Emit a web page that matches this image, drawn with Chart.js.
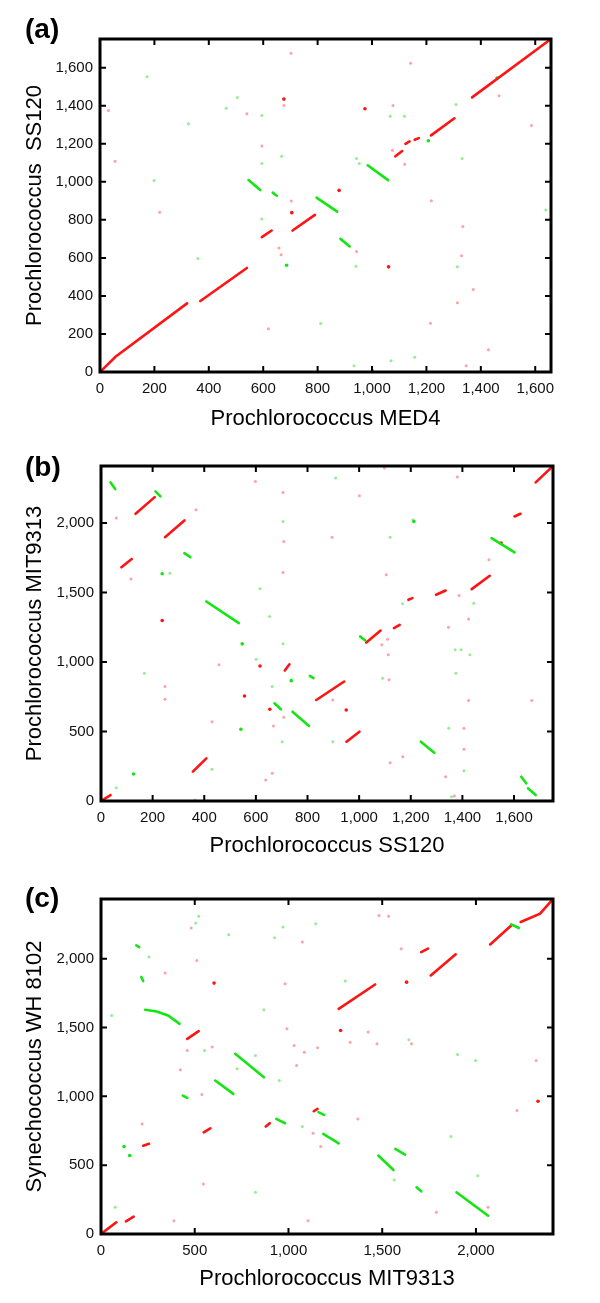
<!DOCTYPE html>
<html>
<head>
<meta charset="utf-8">
<script src="https://cdn.jsdelivr.net/npm/chart.js@4"></script>
<style>
  html, body { margin: 0; padding: 0; background: #fff; }
  body { width: 600px; height: 1303px; position: relative; overflow: hidden; }
  .panel { position: absolute; left: 0; width: 600px; }
</style>
</head>
<body>
<div class="panel" style="top:0px"><canvas id="chartA" width="600" height="432"></canvas></div>
<div class="panel" style="top:428px"><canvas id="chartB" width="600" height="433"></canvas></div>
<div class="panel" style="top:861px"><canvas id="chartC" width="600" height="433"></canvas></div>
<script>
// Genome dot plots (positions in kb)
// red = matches on same strand, green = inverted matches
// segments are polylines [x1, y1, x2, y2, ...]

// (a) MED4 vs SS120
var aMax = [1658, 1751];
var aTicksX = [0, 200, 400, 600, 800, 1000, 1200, 1400, 1600];
var aTicksY = [0, 200, 400, 600, 800, 1000, 1200, 1400, 1600];
var aRed = [
  [0, 0, 57, 80, 320, 361],
  [369, 373, 540, 547],
  [595, 709, 631, 744],
  [708, 744, 790, 826],
  [1086, 1134, 1111, 1162],
  [1123, 1200, 1138, 1213],
  [1157, 1221, 1172, 1230],
  [1217, 1244, 1303, 1334],
  [1368, 1444, 1658, 1751]
];
var aGreen = [
  [546, 1009, 589, 957],
  [635, 943, 650, 927],
  [796, 917, 872, 843],
  [884, 700, 918, 660],
  [984, 1087, 1059, 1009]
];
var aRedDots = [[879, 955], [974, 1384], [676, 1435], [705, 838], [1061, 553]];
var aGreenDots = [[1460, 1546], [686, 561], [1001, 7], [1207, 1216]];
var aFaintRed = [[702, 1676], [676, 1401], [31, 1375], [540, 1358], [595, 1188], [55, 1108],
  [219, 840], [703, 899], [658, 652], [666, 617], [619, 228], [1142, 1624], [1077, 1401],
  [1586, 1296], [1075, 1166], [1120, 1093], [1218, 901], [1334, 765], [1329, 611],
  [1372, 434], [1314, 364], [1215, 256], [1428, 117], [1346, 33], [943, 634], [1467, 1452]];
var aFaintGreen = [[173, 1553], [505, 1444], [464, 1387], [325, 1305], [595, 1349], [668, 1134],
  [595, 1096], [199, 1007], [595, 805], [360, 597], [811, 255], [1067, 1345], [1119, 1345],
  [1309, 1406], [943, 1122], [953, 1097], [1331, 1122], [1639, 852], [941, 556], [1314, 553],
  [1157, 77], [1070, 59], [934, 33]];

// (b) SS120 vs MIT9313
var bMax = [1751, 2411];
var bTicksX = [0, 200, 400, 600, 800, 1000, 1200, 1400, 1600];
var bTicksY = [0, 500, 1000, 1500, 2000];
var bRed = [
  [0, 0, 37, 43],
  [356, 211, 408, 307],
  [951, 427, 1001, 499],
  [834, 727, 942, 860],
  [712, 939, 730, 984],
  [1028, 1140, 1083, 1227],
  [1135, 1244, 1157, 1268],
  [1191, 1448, 1206, 1460],
  [1298, 1484, 1335, 1515],
  [1436, 1525, 1506, 1621],
  [1602, 2048, 1625, 2067],
  [1684, 2293, 1751, 2411],
  [79, 1683, 119, 1741],
  [248, 1899, 323, 2019],
  [134, 2067, 208, 2187]
];
var bGreen = [
  [37, 2293, 55, 2245],
  [211, 2228, 230, 2192],
  [323, 1784, 346, 1755],
  [408, 1436, 534, 1280],
  [1004, 1184, 1024, 1155],
  [1513, 1892, 1602, 1789],
  [809, 900, 823, 884],
  [672, 703, 697, 660],
  [742, 643, 806, 540],
  [1239, 427, 1291, 348],
  [1628, 175, 1647, 127],
  [1654, 91, 1684, 43]
];
var bRedDots = [[616, 972], [654, 660], [950, 655], [1550, 1856], [237, 1299], [556, 756]];
var bGreenDots = [[237, 1635], [547, 1131], [542, 516], [126, 194], [737, 866], [1212, 2012]];
var bFaintRed = [[368, 2096], [59, 2036], [116, 1597], [705, 2221], [708, 1868], [705, 1645],
  [895, 1899], [1001, 2197], [1380, 2331], [1105, 1628], [1503, 1736], [1387, 1479],
  [1424, 1309], [1346, 1251], [1110, 1164], [1088, 1124], [1113, 1052], [1116, 872],
  [1424, 723], [1406, 523], [1406, 372], [1169, 319], [1120, 276], [1335, 175], [1369, 36],
  [1669, 723], [638, 151], [663, 199], [668, 540], [708, 603], [457, 980], [248, 824],
  [248, 732], [430, 571], [598, 2300], [1098, 2396], [898, 727]];
var bFaintGreen = [[705, 2012], [909, 2324], [1209, 2024], [1120, 1899], [616, 1527], [653, 1328],
  [705, 1131], [1168, 1419], [1444, 1424], [1372, 1088], [1395, 1088], [1429, 1052],
  [1375, 920], [1091, 884], [1347, 523], [1406, 218], [1358, 31], [168, 920], [430, 228],
  [364, 7], [59, 96], [702, 427], [898, 427], [663, 824], [601, 1020], [267, 1640]];

// (c) MIT9313 vs WH8102
var cMax = [2411, 2434];
var cTicksX = [0, 500, 1000, 1500, 2000];
var cTicksY = [0, 500, 1000, 1500, 2000];
var cRed = [
  [0, 0, 82, 85],
  [133, 92, 174, 126],
  [225, 642, 256, 655],
  [548, 739, 583, 768],
  [460, 1418, 521, 1474],
  [879, 781, 900, 805],
  [1135, 892, 1155, 909],
  [1268, 1636, 1462, 1813],
  [1708, 2048, 1744, 2073],
  [1759, 1879, 1892, 2032],
  [2076, 2104, 2188, 2242],
  [2239, 2267, 2342, 2327, 2411, 2434]
];
var cGreen = [
  [188, 2097, 204, 2085],
  [215, 1867, 225, 1838],
  [235, 1629, 297, 1617, 358, 1588, 419, 1527],
  [436, 1006, 460, 989],
  [609, 1115, 706, 1018],
  [716, 1309, 869, 1139],
  [935, 836, 982, 805],
  [1160, 885, 1190, 865],
  [1186, 727, 1268, 659],
  [1479, 570, 1560, 465],
  [1570, 618, 1622, 577],
  [1683, 339, 1708, 310],
  [1896, 303, 2065, 133],
  [2188, 2250, 2229, 2223]
];
var cRedDots = [[603, 1823], [1278, 1479], [1630, 1830], [2331, 965]];
var cGreenDots = [[123, 635], [153, 570]];
var cFaintRed = [[481, 2223], [511, 1988], [342, 1896], [1074, 2121], [982, 1818], [1483, 2315],
  [1534, 2308], [1601, 2073], [1425, 1467], [1472, 1382], [1656, 1382], [1329, 1394],
  [992, 1491], [1030, 1370], [1084, 1321], [1155, 1353], [460, 1333], [423, 1193],
  [538, 1013], [593, 1358], [1043, 1224], [2321, 1261], [2219, 897], [1370, 836],
  [1131, 732], [1172, 635], [1789, 158], [2065, 194], [1104, 97], [389, 97], [546, 364], [219, 800]];
var cFaintGreen = [[521, 2308], [505, 2259], [681, 2175], [926, 2153], [971, 2230], [1145, 2255],
  [1303, 1838], [869, 1629], [57, 1588], [256, 2012], [726, 1200], [824, 1297], [951, 1115],
  [552, 1333], [1642, 1411], [1902, 1304], [1998, 1261], [1867, 708], [1074, 781], [1564, 393],
  [2010, 424], [824, 303], [76, 194], [0, 698]];

var RED = "#ff1414";
var GREEN = "#14e614";
var FAINT_RED = "rgba(255, 70, 70, 0.5)";
var FAINT_GREEN = "rgba(40, 220, 40, 0.5)";
var FONT = "'Liberation Sans', Arial, Helvetica, sans-serif";

function lineData(polys) {
  var pts = [];
  polys.forEach(function (p) {
    for (var i = 0; i < p.length; i += 2) {
      pts.push({ x: p[i], y: p[i + 1] });
    }
    // break the line between segments
    pts.push({ x: p[p.length - 2], y: null });
  });
  return pts;
}

function dotData(list) {
  return list.map(function (d) { return { x: d[0], y: d[1] }; });
}

// box with inward ticks on all four sides, plus panel letter
var framePlugin = {
  id: "frame",
  afterDraw: function (chart, args, opts) {
    var ctx = chart.ctx;
    var a = chart.chartArea;
    var xs = chart.scales.x;
    var ys = chart.scales.y;
    ctx.save();
    ctx.strokeStyle = "#000";
    ctx.lineWidth = 2;
    ctx.beginPath();
    xs.ticks.forEach(function (t) {
      var px = xs.getPixelForValue(t.value);
      ctx.moveTo(px, a.bottom);
      ctx.lineTo(px, a.bottom - 6);
      ctx.moveTo(px, a.top);
      ctx.lineTo(px, a.top + 6);
    });
    ys.ticks.forEach(function (t) {
      var py = ys.getPixelForValue(t.value);
      ctx.moveTo(a.left, py);
      ctx.lineTo(a.left + 6, py);
      ctx.moveTo(a.right, py);
      ctx.lineTo(a.right - 6, py);
    });
    ctx.stroke();
    ctx.lineWidth = 3;
    ctx.strokeRect(a.left, a.top, a.right - a.left, a.bottom - a.top);
    ctx.fillStyle = "#000";
    ctx.font = "bold 28px " + FONT;
    ctx.textBaseline = "middle";
    ctx.textAlign = "left";
    ctx.fillText(opts.label, 25, opts.labelY);
    ctx.restore();
  }
};

function makePanel(id, p) {
  var datasets = [
    { data: dotData(p.faintRed), pointRadius: 1.5, pointBackgroundColor: FAINT_RED, pointBorderWidth: 0 },
    { data: dotData(p.faintGreen), pointRadius: 1.5, pointBackgroundColor: FAINT_GREEN, pointBorderWidth: 0 },
    { data: lineData(p.green), showLine: true, borderColor: GREEN, borderWidth: 2.6, pointRadius: 0, borderCapStyle: "round" },
    { data: lineData(p.red), showLine: true, borderColor: RED, borderWidth: 2.6, pointRadius: 0, borderCapStyle: "round" },
    { data: dotData(p.greenDots), pointRadius: 1.8, pointBackgroundColor: GREEN, pointBorderWidth: 0 },
    { data: dotData(p.redDots), pointRadius: 1.8, pointBackgroundColor: RED, pointBorderWidth: 0 }
  ];

  new Chart(document.getElementById(id), {
    type: "scatter",
    data: { datasets: datasets },
    options: {
      responsive: false,
      animation: false,
      events: [],
      layout: { padding: { top: p.padTop, right: p.padRight, left: 0, bottom: 0 } },
      plugins: {
        legend: { display: false },
        tooltip: { enabled: false },
        frame: { label: p.label, labelY: p.labelY }
      },
      scales: {
        x: {
          type: "linear",
          min: 0,
          max: p.max[0],
          afterBuildTicks: function (s) {
            s.ticks = p.ticksX.map(function (v) { return { value: v }; });
          },
          afterFit: function (s) {
            s.height = 60;
            s.paddingLeft = 0;
            s.paddingRight = 0;
          },
          grid: { display: false, drawTicks: false },
          border: { display: false },
          ticks: {
            padding: 8,
            color: "#111",
            font: { family: FONT, size: 15 },
            maxRotation: 0,
            autoSkip: false,
            callback: function (v) { return v.toLocaleString("en-US"); }
          },
          title: {
            display: true,
            text: p.xTitle,
            color: "#000",
            font: { family: FONT, size: 22 },
            padding: { top: 0, bottom: p.xTitlePad }
          }
        },
        y: {
          type: "linear",
          min: 0,
          max: p.max[1],
          afterBuildTicks: function (s) {
            s.ticks = p.ticksY.map(function (v) { return { value: v }; });
          },
          afterFit: function (s) {
            s.width = p.left;
            s.paddingTop = 0;
            s.paddingBottom = 0;
          },
          grid: { display: false, drawTicks: false },
          border: { display: false },
          ticks: {
            padding: 7,
            color: "#111",
            font: { family: FONT, size: 15 },
            autoSkip: false,
            callback: function (v) { return v.toLocaleString("en-US"); }
          },
          title: {
            display: true,
            text: p.yTitle,
            color: "#000",
            font: { family: FONT, size: 22 },
            padding: { top: 22, bottom: 0 }
          }
        }
      }
    },
    plugins: [framePlugin]
  });
}

makePanel("chartA", {
  label: "(a)", labelY: 30, padTop: 39, padRight: 49, left: 100, xTitlePad: 0,
  max: aMax, ticksX: aTicksX, ticksY: aTicksY,
  xTitle: "Prochlorococcus MED4", yTitle: "Prochlorococcus  SS120",
  red: aRed, green: aGreen, redDots: aRedDots, greenDots: aGreenDots,
  faintRed: aFaintRed, faintGreen: aFaintGreen
});

makePanel("chartB", {
  label: "(b)", labelY: 40, padTop: 38, padRight: 47, left: 101, xTitlePad: 1.8,
  max: bMax, ticksX: bTicksX, ticksY: bTicksY,
  xTitle: "Prochlorococcus SS120", yTitle: "Prochlorococcus MIT9313",
  red: bRed, green: bGreen, redDots: bRedDots, greenDots: bGreenDots,
  faintRed: bFaintRed, faintGreen: bFaintGreen
});

makePanel("chartC", {
  label: "(c)", labelY: 38, padTop: 38, padRight: 47, left: 101, xTitlePad: 1.8,
  max: cMax, ticksX: cTicksX, ticksY: cTicksY,
  xTitle: "Prochlorococcus MIT9313", yTitle: "Synechococcus WH 8102",
  red: cRed, green: cGreen, redDots: cRedDots, greenDots: cGreenDots,
  faintRed: cFaintRed, faintGreen: cFaintGreen
});
</script>
</body>
</html>
